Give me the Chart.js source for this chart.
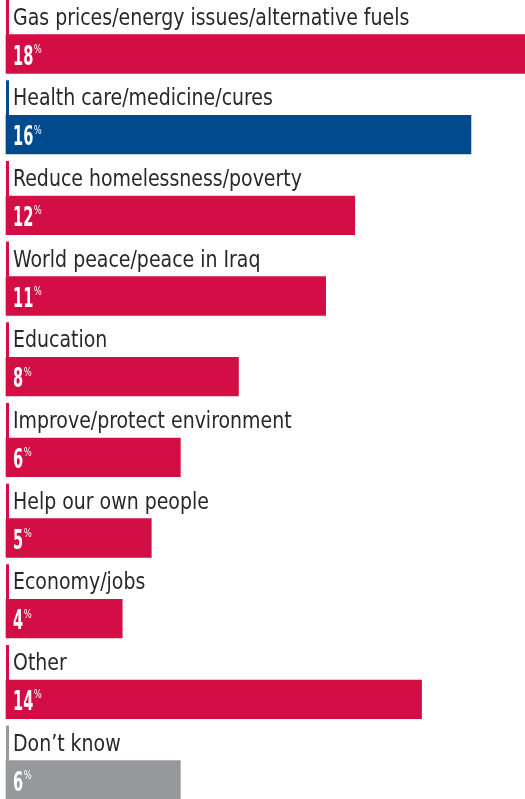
<!DOCTYPE html>
<html>
<head>
<meta charset="utf-8">
<script src="https://cdn.jsdelivr.net/npm/chart.js@4/dist/chart.umd.min.js"></script>
<style>
  html, body { margin: 0; padding: 0; background: #ffffff; }
  #wrap { position: relative; width: 525px; height: 799px; }
</style>
</head>
<body>
<div id="wrap"><canvas id="c"></canvas></div>
<script>
// ---- data ----
const categories = [
  "Gas prices/energy issues/alternative fuels",
  "Health care/medicine/cures",
  "Reduce homelessness/poverty",
  "World peace/peace in Iraq",
  "Education",
  "Improve/protect environment",
  "Help our own people",
  "Economy/jobs",
  "Other",
  "Don\u2019t know"
];
const percentLabels = ["18", "16", "12", "11", "8", "6", "5", "4", "14", "6"];
const barValues = [18, 16, 12, 11, 8, 6, 5, 4, 14.3, 6];

// ---- style ----
const RED = "#d30e45";
const BLUE = "#004a8d";
const GRAY = "#97989c";
const TEXT = "#2a2728";
const colorFor = (i) => (i === 1 ? BLUE : (i === categories.length - 1 ? GRAY : RED));
const FAMILY = '"DejaVu Sans Condensed", "Liberation Sans Narrow", "DejaVu Sans", sans-serif';
const LABEL_FONT = '300 23px ' + FAMILY;
const NUM_FONT = '600 27px ' + FAMILY;
const PCT_FONT = '13px ' + FAMILY;

function condensedText(ctx, text, x, y, sx) {
  ctx.save();
  ctx.translate(x, y);
  ctx.scale(sx, 1);
  ctx.fillText(text, 0, 0);
  const w = ctx.measureText(text).width * sx;
  ctx.restore();
  return w;
}

const labelPlugin = {
  id: "groupLabels",
  afterDatasetsDraw(chart) {
    const ctx = chart.ctx;
    const meta = chart.getDatasetMeta(0);
    meta.data.forEach((bar, i) => {
      const p = bar.getProps(["x", "y", "base", "height"], true);
      const top = p.y - p.height / 2;
      const left = p.base;
      const col = colorFor(i);
      ctx.save();
      // left rule alongside the label row
      ctx.fillStyle = col;
      ctx.fillRect(left, top - 35, 3, 35);
      // category label
      ctx.fillStyle = TEXT;
      ctx.font = LABEL_FONT;
      ctx.textBaseline = "alphabetic";
      ctx.textAlign = "left";
      condensedText(ctx, categories[i], left + 7, top - 10, 0.915);
      // percentage
      ctx.fillStyle = "#ffffff";
      ctx.font = NUM_FONT;
      const w = condensedText(ctx, percentLabels[i], left + 7, top + 30, 0.6);
      ctx.font = PCT_FONT;
      ctx.textBaseline = "top";
      condensedText(ctx, "%", left + 7 + w + 0.5, top + 8.5, 0.72);
      ctx.restore();
    });
  }
};

new Chart(document.getElementById("c"), {
  type: "bar",
  data: {
    labels: categories,
    datasets: [{
      data: barValues,
      backgroundColor: categories.map((_, i) => colorFor(i)),
      borderWidth: 0,
      barThickness: 38.7,
      clip: false
    }]
  },
  options: {
    indexAxis: "y",
    responsive: true,
    maintainAspectRatio: false,
    animation: false,
    layout: { padding: { left: 6, right: 0, top: 54, bottom: 19 } },
    scales: {
      x: { type: "linear", min: 0, max: 17.86, display: false },
      y: { type: "category", offset: false, display: false }
    },
    plugins: {
      legend: { display: false },
      tooltip: { enabled: false }
    }
  },
  plugins: [labelPlugin]
});
</script>
</body>
</html>
